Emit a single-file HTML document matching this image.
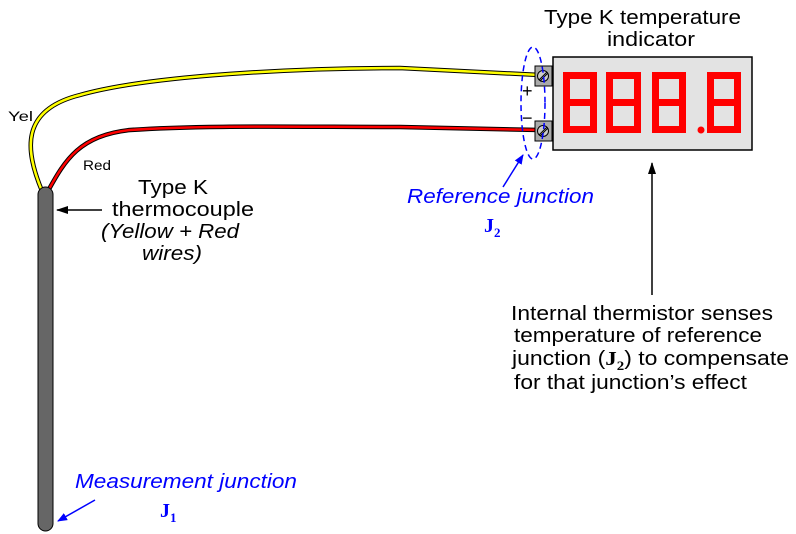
<!DOCTYPE html>
<html><head><style>body{margin:0;background:#fff}svg{display:block}</style></head><body>
<svg width="796" height="534" viewBox="0 0 796 534" xmlns="http://www.w3.org/2000/svg" font-family="Liberation Sans, sans-serif">
<defs>
<marker id="ab" markerWidth="10" markerHeight="8" refX="9" refY="4" orient="auto" markerUnits="userSpaceOnUse"><path d="M0,0 L10,4 L0,8 Z" fill="#00f"/></marker>
<marker id="ak" markerWidth="12" markerHeight="8" refX="11" refY="4" orient="auto" markerUnits="userSpaceOnUse"><path d="M0,0 L12,4 L0,8 Z" fill="#000"/></marker>
</defs>
<path d="M42,191 C25,150 20,110 80,95 C150,75 300,68 400,68 L540,75" fill="none" stroke="#000" stroke-width="4.5"/>
<path d="M42,191 C25,150 20,110 80,95 C150,75 300,68 400,68 L540,75" fill="none" stroke="#ff0" stroke-width="2.5"/>
<path d="M48,191 C65,160 80,135 130,130 C200,125 300,127 400,127 L540,130" fill="none" stroke="#000" stroke-width="4.5"/>
<path d="M48,191 C65,160 80,135 130,130 C200,125 300,127 400,127 L540,130" fill="none" stroke="#f00" stroke-width="2.5"/>
<rect x="38" y="187" width="15" height="344" rx="7.5" fill="#666" stroke="#000" stroke-width="1"/>
<text x="8" y="121" font-size="14" textLength="25" lengthAdjust="spacingAndGlyphs">Yel</text>
<text x="83" y="170" font-size="14" textLength="28" lengthAdjust="spacingAndGlyphs">Red</text>
<rect x="553" y="57" width="199" height="93" fill="#e3e3e3" stroke="#000" stroke-width="1.5"/>
<g fill="#f00">
<path d="M563,72h34v61h-34z M570,79v20h20v-20z M570,106v20h20v-20z" fill-rule="evenodd"/>
<path d="M606,72h35v61h-35z M613,79v20h21v-20z M613,106v20h21v-20z" fill-rule="evenodd"/>
<path d="M652,72h34v61h-34z M659,79v20h20v-20z M659,106v20h20v-20z" fill-rule="evenodd"/>
<path d="M707,72h34v61h-34z M714,79v20h20v-20z M714,106v20h20v-20z" fill-rule="evenodd"/>
<circle cx="701" cy="130" r="3.5"/>
</g>
<rect x="535" y="66" width="17" height="20" fill="#aaa" stroke="#000"/>
<rect x="535" y="121" width="17" height="20" fill="#aaa" stroke="#000"/>
<circle cx="543" cy="76" r="5.5" fill="#ccc" stroke="#000"/><line x1="539" y1="80" x2="547" y2="72" stroke="#000"/><line x1="540" y1="81" x2="548" y2="73" stroke="#000"/>
<circle cx="543" cy="131" r="5.5" fill="#ccc" stroke="#000"/><line x1="539" y1="135" x2="547" y2="127" stroke="#000"/><line x1="540" y1="136" x2="548" y2="128" stroke="#000"/>
<text x="522" y="97" font-size="18">+</text>
<text x="522" y="124" font-size="18">−</text>
<ellipse cx="533" cy="103" rx="12" ry="56" fill="none" stroke="#00f" stroke-width="1.5" stroke-dasharray="6,4"/>
<text x="544" y="24" font-size="20" textLength="197" lengthAdjust="spacingAndGlyphs">Type K temperature</text>
<text x="607" y="46" font-size="20" textLength="88" lengthAdjust="spacingAndGlyphs">indicator</text>
<line x1="503" y1="187" x2="523" y2="155" stroke="#00f" stroke-width="1.5" marker-end="url(#ab)"/>
<text x="407" y="203" font-size="20" font-style="italic" fill="#00f" textLength="187" lengthAdjust="spacingAndGlyphs">Reference junction</text>
<text x="484" y="232" font-size="20" font-weight="bold" font-family="Liberation Serif, serif" fill="#00f">J<tspan font-size="13" dy="5">2</tspan></text>
<line x1="102" y1="210" x2="57" y2="210" stroke="#000" stroke-width="1.5" marker-end="url(#ak)"/>
<text x="138" y="194" font-size="20" textLength="70" lengthAdjust="spacingAndGlyphs">Type K</text>
<text x="112" y="216" font-size="20" textLength="142" lengthAdjust="spacingAndGlyphs">thermocouple</text>
<text x="101" y="238" font-size="20" font-style="italic" textLength="138" lengthAdjust="spacingAndGlyphs">(Yellow + Red</text>
<text x="142" y="260" font-size="20" font-style="italic" textLength="60" lengthAdjust="spacingAndGlyphs">wires)</text>
<line x1="652" y1="295" x2="652" y2="163" stroke="#000" stroke-width="1.5" marker-end="url(#ak)"/>
<text x="511" y="320" font-size="20" textLength="262" lengthAdjust="spacingAndGlyphs">Internal thermistor senses</text>
<text x="514" y="342" font-size="20" textLength="248" lengthAdjust="spacingAndGlyphs">temperature of reference</text>
<text x="512" y="365" font-size="20" textLength="277" lengthAdjust="spacingAndGlyphs">junction (<tspan font-family="Liberation Serif, serif" font-weight="bold">J<tspan font-size="13" dy="5">2</tspan></tspan><tspan dy="-5">) to compensate</tspan></text>
<text x="514" y="389" font-size="20" textLength="233" lengthAdjust="spacingAndGlyphs">for that junction’s effect</text>
<line x1="95" y1="500" x2="58" y2="521" stroke="#00f" stroke-width="1.5" marker-end="url(#ab)"/>
<text x="75" y="488" font-size="20" font-style="italic" fill="#00f" textLength="222" lengthAdjust="spacingAndGlyphs">Measurement junction</text>
<text x="160" y="517" font-size="20" font-weight="bold" font-family="Liberation Serif, serif" fill="#00f">J<tspan font-size="13" dy="5">1</tspan></text>
</svg>
</body></html>
